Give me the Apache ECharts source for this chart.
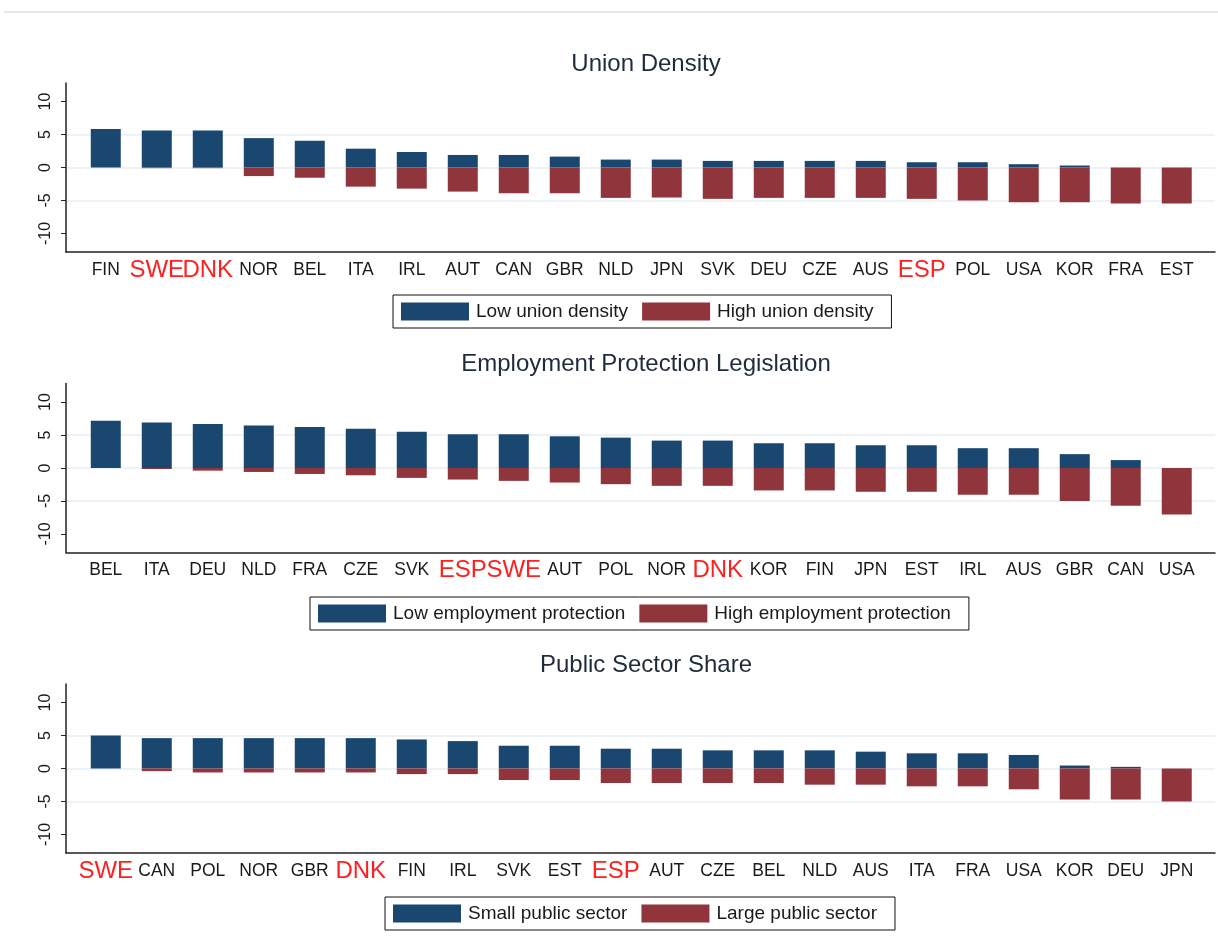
<!DOCTYPE html>
<html>
<head>
<meta charset="utf-8">
<script src="https://cdn.jsdelivr.net/npm/echarts@6/dist/echarts.min.js"></script>
<style>
  html, body { margin: 0; padding: 0; background: #fff; }
  #main { width: 1218px; height: 949px; }
</style>
</head>
<body>
<div id="main"></div>
<script>
// 三个面板的数据
const udCountries = ['FIN','SWE','DNK','NOR','BEL','ITA','IRL','AUT','CAN','GBR','NLD','JPN','SVK','DEU','CZE','AUS','ESP','POL','USA','KOR','FRA','EST'];
const udLow  = [5.85, 5.6, 5.6, 4.45, 4.05, 2.85, 2.35, 1.9, 1.9, 1.65, 1.2, 1.2, 1.0, 1.0, 1.0, 1.0, 0.8, 0.8, 0.5, 0.3, 0, 0];
const udHigh = [0, -0.1, -0.1, -1.3, -1.55, -2.9, -3.2, -3.65, -3.9, -3.9, -4.6, -4.55, -4.75, -4.6, -4.6, -4.6, -4.75, -5.0, -5.25, -5.25, -5.45, -5.45];

const eplCountries = ['BEL','ITA','DEU','NLD','FRA','CZE','SVK','ESP','SWE','AUT','POL','NOR','DNK','KOR','FIN','JPN','EST','IRL','AUS','GBR','CAN','USA'];
const eplLow  = [7.15, 6.9, 6.65, 6.45, 6.2, 5.95, 5.5, 5.1, 5.1, 4.8, 4.6, 4.15, 4.15, 3.75, 3.75, 3.45, 3.45, 3.0, 3.0, 2.1, 1.2, 0];
const eplHigh = [0, -0.15, -0.4, -0.6, -0.9, -1.1, -1.5, -1.75, -1.95, -2.2, -2.45, -2.7, -2.7, -3.4, -3.4, -3.6, -3.6, -4.05, -4.05, -5.0, -5.7, -7.05];

const pubCountries = ['SWE','CAN','POL','NOR','GBR','DNK','FIN','IRL','SVK','EST','ESP','AUT','CZE','BEL','NLD','AUS','ITA','FRA','USA','KOR','DEU','JPN'];
const pubLow  = [5.0, 4.6, 4.6, 4.6, 4.6, 4.6, 4.4, 4.15, 3.45, 3.45, 3.0, 3.0, 2.75, 2.75, 2.75, 2.55, 2.3, 2.3, 2.05, 0.45, 0.25, 0];
const pubHigh = [0, -0.4, -0.6, -0.6, -0.6, -0.6, -0.85, -0.85, -1.75, -1.75, -2.2, -2.2, -2.2, -2.2, -2.45, -2.45, -2.7, -2.7, -3.15, -4.7, -4.7, -5.0];

const panelTitles = ['Union Density', 'Employment Protection Legislation', 'Public Sector Share'];
const lowNames  = ['Low union density', 'Low employment protection', 'Small public sector'];
const highNames = ['High union density', 'High employment protection', 'Large public sector'];
const highlighted = ['SWE', 'DNK', 'ESP'];
const yTicks = [-10, -5, 0, 5, 10];

const panels = [
  { countries: udCountries, low: udLow, high: udHigh },
  { countries: eplCountries, low: eplLow, high: eplHigh },
  { countries: pubCountries, low: pubLow, high: pubHigh }
];

const FONT = '"Liberation Sans", Arial, sans-serif';
const NAVY = '#1a476f';
const MAROON = '#90353b';

// 每个面板的布局
const gridTops = [83, 383.5, 684];
const legendLefts = [393, 310, 385];
const legendTops = [295, 597, 897];
const titleTops = [47, 347.5, 648];

const chart = echarts.init(document.getElementById('main'));

const grids = [], xAxes = [], yAxes = [], series = [], titles = [], legends = [];

panels.forEach((p, i) => {
  const idx = p.countries.map((_, k) => k);

  grids.push({ left: 66, right: 3, top: gridTops[i], height: 169 });

  titles.push({
    text: panelTitles[i],
    left: 641,
    top: titleTops[i],
    textAlign: 'center',
    textStyle: { fontFamily: FONT, fontSize: 24, fontWeight: 'normal', color: '#1f2b3a' }
  });

  xAxes.push({
    type: 'value',
    gridIndex: i,
    min: -0.78,
    max: 21.75,
    axisLine: { show: true, onZero: false, lineStyle: { color: '#222', width: 1.5 } },
    axisTick: { show: false },
    splitLine: { show: false },
    axisLabel: {
      customValues: idx,
      margin: 18,
      verticalAlign: 'middle',
      fontFamily: FONT,
      fontSize: 17.5,
      color: '#1a1a1a',
      formatter: v => {
        const name = p.countries[Math.round(v)] || '';
        return highlighted.includes(name) ? `{r|${name}}` : name;
      },
      rich: { r: { fontFamily: FONT, fontSize: 24, color: '#ff1f1f' } }
    }
  });

  yAxes.push({
    type: 'value',
    gridIndex: i,
    min: -12.8,
    max: 12.8,
    axisLine: { show: true, onZero: false, lineStyle: { color: '#222', width: 1.5 } },
    axisTick: { show: true, customValues: yTicks, length: 5, lineStyle: { color: '#222' } },
    axisLabel: {
      customValues: yTicks,
      rotate: 90,
      margin: 12,
      fontFamily: FONT,
      fontSize: 16,
      color: '#1a1a1a'
    },
    splitLine: { show: true, showMinLine: false, showMaxLine: false, lineStyle: { color: '#e6eef2', width: 1.5 } }
  });

  series.push({
    name: lowNames[i],
    type: 'bar',
    xAxisIndex: i,
    yAxisIndex: i,
    stack: 'p' + i,
    barWidth: 30,
    itemStyle: { color: NAVY },
    data: p.low.map((v, k) => [k, v])
  });
  series.push({
    name: highNames[i],
    type: 'bar',
    xAxisIndex: i,
    yAxisIndex: i,
    stack: 'p' + i,
    barWidth: 30,
    itemStyle: { color: MAROON },
    data: p.high.map((v, k) => [k, v])
  });

  legends.push({
    data: [lowNames[i], highNames[i]],
    left: legendLefts[i],
    top: legendTops[i],
    orient: 'horizontal',
    padding: [7, 18, 7, 8],
    borderColor: '#111',
    borderWidth: 1,
    itemWidth: 68,
    itemHeight: 18,
    itemGap: 14,
    icon: 'rect',
    selectedMode: false,
    textStyle: { fontFamily: FONT, fontSize: 19, color: '#1a1a1a', padding: [0, 0, 0, 2] }
  });
});

chart.setOption({
  animation: false,
  backgroundColor: '#fff',
  title: titles,
  grid: grids,
  xAxis: xAxes,
  yAxis: yAxes,
  legend: legends,
  series: series,
  graphic: [
    // 截图顶部的浅色分隔线
    { type: 'line', shape: { x1: 4, y1: 12, x2: 1218, y2: 12 }, style: { stroke: '#e3e9e9', lineWidth: 2 } }
  ]
});
</script>
</body>
</html>
